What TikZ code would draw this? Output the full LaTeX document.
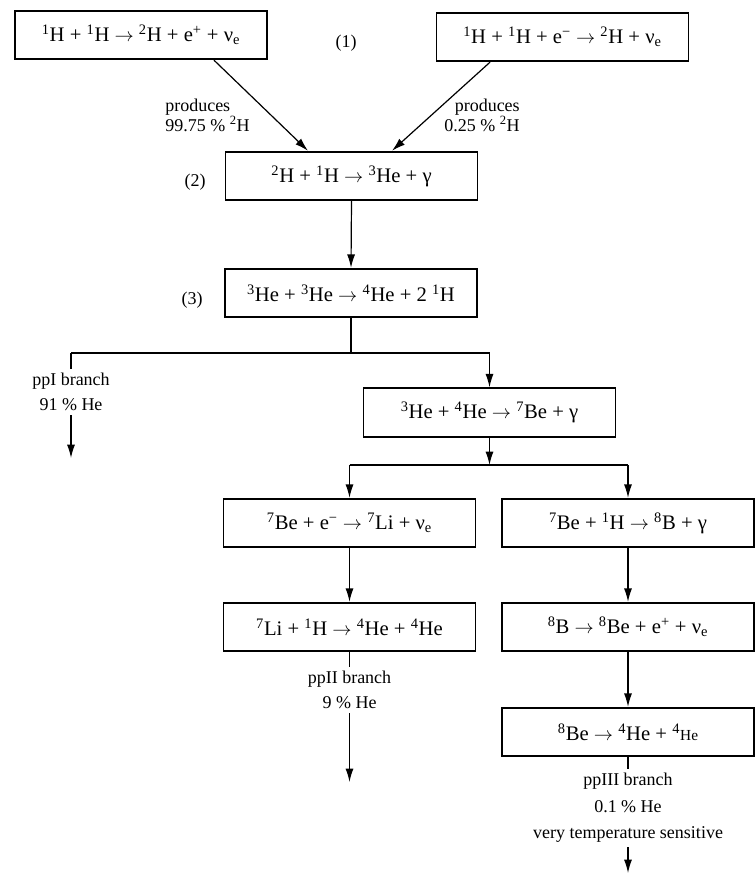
\documentclass[tikz,border=0pt]{standalone}
\usepackage{fontspec}
\setmainfont{Liberation Serif}
\usetikzlibrary{arrows.meta,calc}
\newcommand{\iso}[2]{\textsuperscript{#1}#2}
\newcommand{\nue}{ν\textsubscript{e}}
\newcommand{\yields}{$\rightarrow$}

\begin{document}
\begin{tikzpicture}[x=0.75pt,y=0.75pt,yscale=-1,xscale=1,
  reac/.style={draw,line width=1.3pt,minimum width=189pt,minimum height=36.5pt,inner sep=0pt,font=\fontsize{15.5}{18}\selectfont},
  lbl/.style={inner sep=3pt,font=\fontsize{13.5}{15}\selectfont},
  arr/.style={line width=0.9pt,-{Latex[length=10pt,width=6pt]}},
  ln/.style={line width=0.9pt}]
\useasboundingbox (0,0) rectangle (754,882);

%Shape: Rectangle [reaction boxes]
\node [reac] (ppA) at (141,35) {\iso{1}{H} + \iso{1}{H} \yields\ \iso{2}{H} + e\textsuperscript{+} + \nue};
\node [reac] (ppB) at (562.5,37) {\iso{1}{H} + \iso{1}{H} + e\textsuperscript{−} \yields\ \iso{2}{H} + \nue};
\node [reac] (dp) at (351.5,176) {\iso{2}{H} + \iso{1}{H} \yields\ \iso{3}{He} + γ};
\node [reac] (hethree) at (351,293) {\iso{3}{He} + \iso{3}{He} \yields\ \iso{4}{He} + 2 \iso{1}{H}};
\node [reac] (hefour) at (489.5,412.5) {\iso{3}{He} + \iso{4}{He} \yields\ \iso{7}{Be} + γ};
\node [reac] (beE) at (349.5,523) {\iso{7}{Be} + e\textsuperscript{−} \yields\ \iso{7}{Li} + \nue};
\node [reac] (beP) at (628,523) {\iso{7}{Be} + \iso{1}{H} \yields\ \iso{8}{B} + γ};
\node [reac] (liP) at (349.5,627) {\iso{7}{Li} + \iso{1}{H} \yields\ \iso{4}{He} + \iso{4}{He}};
\node [reac] (bdec) at (628,627) {\iso{8}{B} \yields\ \iso{8}{Be} + e\textsuperscript{+} + \nue};
\node [reac] (besplit) at (628,732) {\iso{8}{Be} \yields\ \iso{4}{He} + \iso{4}{{\fontsize{11.5}{13}\selectfont He}}};

% Text Node
\node [lbl] (stepone) at (346,43) {(1)};
\node [lbl] (steptwo) at (195,182) {(2)};
\node [lbl] (stepthree) at (192,300) {(3)};
\node [lbl,anchor=west,align=left] (prodL) at (161,115) {produces\\99.75 \%\ \iso{2}{H}};
\node [lbl,anchor=east,align=right] (prodR) at (524,115) {produces\\0.25 \%\ \iso{2}{H}};
\node [lbl,align=center,font=\fontsize{13.5}{19}\selectfont] (ppI) at (71,392) {ppI branch\\91 \%\ He};
\node [lbl,align=center,font=\fontsize{13.5}{19}\selectfont] (ppII) at (349.5,690) {ppII branch\\9 \%\ He};
\node [lbl,align=center,font=\fontsize{13.5}{20}\selectfont] (ppIII) at (628,808) {ppIII branch\\0.1 \%\ He\\very temperature sensitive};

% branch points
\coordinate (brL) at (71,353);
\coordinate (brR) at (489.5,353);
\coordinate (brF) at (349.5,465);
\coordinate (brG) at (628,465);
\coordinate (endI) at (71,458);
\coordinate (endII) at (349.5,782);
\coordinate (endIII) at (628,873);

%Straight Lines
\draw [arr] ($(ppA.south)+(73,0)$) -- ($(dp.north)+(-43.5,0)$);
\draw [arr] ($(ppB.south)+(-72.5,0)$) -- ($(dp.north)+(40.5,0)$);
\draw [arr] (dp.south) -- (hethree.north);
\draw [ln] (hethree.south) -- (hethree.south |- brL);
\draw [ln] (brL) -- (brR);
\draw [arr] (brR) -- (hefour.north);
\draw [ln] (brL) -- (ppI.north);
\draw [arr] (ppI.south) -- (endI);
\draw [arr] (hefour.south) -- (hefour.south |- brF);
\draw [ln] (brF) -- (brG);
\draw [arr] (brF) -- (beE.north);
\draw [arr] (brG) -- (beP.north);
\draw [arr] (beE.south) -- (liP.north);
\draw [arr] (beP.south) -- (bdec.north);
\draw [arr] (bdec.south) -- (besplit.north);
\draw [ln] (liP.south) -- (ppII.north);
\draw [arr] (ppII.south) -- (endII);
\draw [ln] (besplit.south) -- (ppIII.north);
\draw [arr] (ppIII.south) -- (endIII);

\end{tikzpicture}
\end{document}
